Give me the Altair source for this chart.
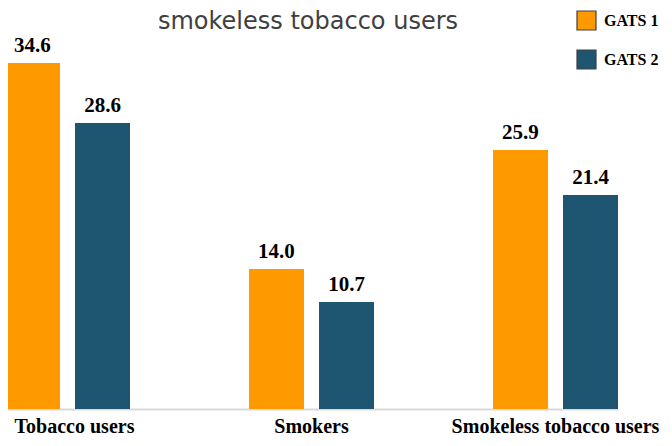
import altair as alt
import pandas as pd

categories = ["Tobacco users", "Smokers", "Smokeless tobacco users"]
surveys = ["GATS 1", "GATS 2"]
gats1 = [34.6, 14.0, 25.9]
gats2 = [28.6, 10.7, 21.4]
colors = ["#FF9900", "#1E5571"]
title_text = "smokeless tobacco users"

rows = []
for c, a, b in zip(categories, gats1, gats2):
    rows.append({"category": c, "survey": surveys[0], "value": a})
    rows.append({"category": c, "survey": surveys[1], "value": b})
df = pd.DataFrame(rows)

serif = "Liberation Serif"

base = alt.Chart(df).encode(
    x=alt.X(
        "category:N",
        sort=categories,
        scale=alt.Scale(range=[-3, 610], paddingInner=0.4877, paddingOuter=0),
        axis=alt.Axis(
            title=None,
            labelAngle=0,
            ticks=False,
            tickSize=0,
            domain=True,
            domainColor="#d9d9d9",
            domainWidth=2,
            labelFont=serif,
            labelFontWeight="bold",
            labelFontSize=20,
            labelColor="#000000",
            labelBaseline="alphabetic",
            labelPadding=23,
            labelLimit=0,
            labelOffset={
                "condition": {"test": "datum.value === 'Tobacco users'", "value": 7},
                "value": 0,
            },
            grid=False,
        ),
    ),
    xOffset=alt.XOffset(
        "survey:N",
        sort=surveys,
        scale=alt.Scale(paddingInner=0.2143, paddingOuter=0),
    ),
    y=alt.Y("value:Q", scale=alt.Scale(domain=[0, 40]), axis=None),
)

bars = base.mark_bar().encode(
    color=alt.Color(
        "survey:N",
        sort=surveys,
        scale=alt.Scale(domain=surveys, range=colors),
        legend=alt.Legend(
            title=None,
            orient="none",
            legendX=568,
            legendY=1,
            padding=0,
            symbolType="square",
            symbolSize=361,
            symbolStrokeColor="#404040",
            symbolStrokeWidth=1.2,
            symbolOpacity=1,
            labelFont=serif,
            labelFontWeight="bold",
            labelFontSize=16,
            labelColor="#000000",
            labelOffset=7,
            labelLimit=0,
            rowPadding=14,
        ),
    )
)

labels = base.mark_text(
    dy=-11,
    baseline="alphabetic",
    font=serif,
    fontWeight="bold",
    fontSize=21,
    color="#000000",
).encode(text=alt.Text("value:Q", format=".1f"))

title = alt.Chart(pd.DataFrame({"t": [title_text]})).mark_text(
    font="DejaVu Sans",
    fontSize=24,
    color="#404040",
    align="center",
    baseline="alphabetic",
).encode(text="t:N", x=alt.value(300), y=alt.value(20))

chart = (
    alt.layer(bars, labels, title)
    .properties(
        width=656,
        height=400,
        padding={"left": 0, "top": 1, "right": 0, "bottom": 29},
        autosize=alt.AutoSizeParams(type="none"),
    )
    .configure_view(stroke=None)
)

chart.save("out.html", embed_options={"renderer": "svg", "actions": False})
